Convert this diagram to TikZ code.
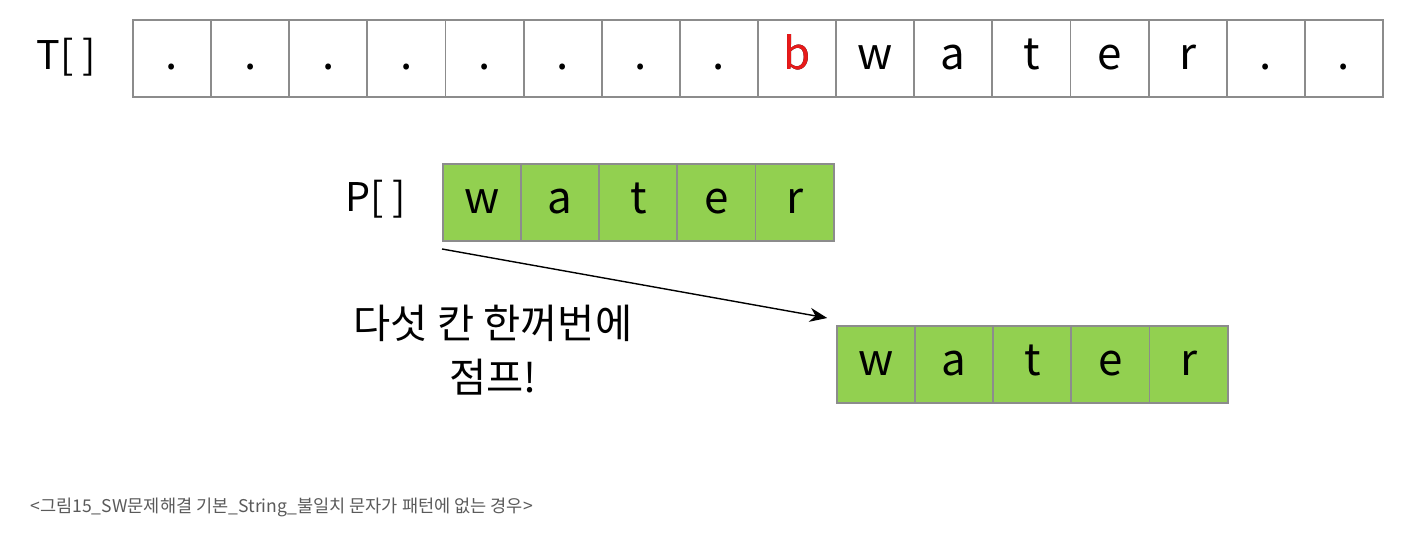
\documentclass[tikz,border=0pt]{standalone}
\usepackage{fontspec}
\setmainfont{Noto Sans CJK KR}
\usepackage{tikz}
\usetikzlibrary{arrows.meta, positioning, calc}

\definecolor{cellgray}{HTML}{8C8C8C}
\definecolor{patgreen}{HTML}{92D050}
\definecolor{mismatch}{HTML}{E81A1A}
\definecolor{captiongray}{HTML}{5A5A5A}

\tikzset{
  cell/.style={draw=cellgray, line width=1.1pt, minimum width=1.5625cm, minimum height=1.54cm, inner sep=0pt, text height=19pt, text depth=6pt, font=\fontsize{25}{28}\selectfont},
  patcell/.style={cell, fill=patgreen},
  arrlabel/.style={font=\fontsize{22.5}{28}\selectfont},
}

\begin{document}
\begin{tikzpicture}
				\useasboundingbox (0,0) rectangle (28.1,-11);
				% text array T
				\node[arrlabel] (tlabel) at (1.32,-1.14) {T[ ]};
				\foreach \c [count=\i] in {.,.,.,.,.,.,.,.,b,w,a,t,e,r,.,.} {
					\node[cell] (t\i) at ({2.66+1.5625*\i-0.78125},-1.17) {\c};
				}
				% mismatch character
				\node[cell, text=mismatch] at (t9) {b};
				% pattern P, current position
				\node[arrlabel] (plabel) at (7.52,-3.98) {P[ ]};
				\foreach \c [count=\i] in {w,a,t,e,r} {
					\node[patcell] (p\i) at ({8.86+1.5625*\i-0.78125},-4.05) {\c};
				}
				% pattern P, after the jump
				\foreach \c [count=\i] in {w,a,t,e,r} {
					\node[patcell] (q\i) at ({16.74+1.5625*\i-0.78125},-7.29) {\c};
				}
				% jump arrow
				\draw[line width=0.8pt, -{Stealth[length=10pt,width=8pt]}] ([yshift=-4pt]p1.south west) -- ([xshift=-5pt,yshift=4pt]q1.north west);
				\node[font=\fontsize{23}{31}\selectfont, align=center] (jump) at (9.86,-7.0) {다섯 칸 한꺼번에\\점프!};
				% caption
				\node[font=\fontsize{10}{12}\selectfont, text=captiongray, anchor=west, inner sep=0pt] (caption) at (0.6,-10.14) {<그림15\_SW문제해결 기본\_String\_불일치 문자가 패턴에 없는 경우>};
\end{tikzpicture}
\end{document}
